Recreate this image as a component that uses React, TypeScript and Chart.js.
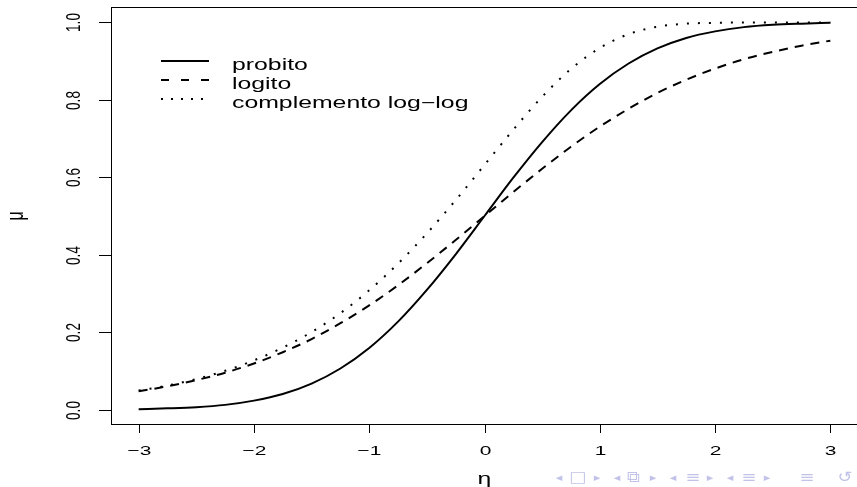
import React, { useEffect, useRef } from "react";
import { Chart, registerables } from "chart.js";

Chart.register(...registerables);

// ---- data ----
const eta = [-3, -2.75, -2.5, -2.25, -2, -1.75, -1.5, -1.25, -1, -0.75, -0.5, -0.25, 0,
  0.25, 0.5, 0.75, 1, 1.25, 1.5, 1.75, 2, 2.25, 2.5, 2.75, 3];
const probito = [0.001, 0.003, 0.006, 0.012, 0.023, 0.04, 0.067, 0.106, 0.159, 0.227, 0.309, 0.401, 0.5,
  0.599, 0.691, 0.773, 0.841, 0.894, 0.933, 0.96, 0.977, 0.988, 0.994, 0.997, 0.999];
const logito = [0.047, 0.06, 0.076, 0.095, 0.119, 0.148, 0.182, 0.223, 0.269, 0.321, 0.378, 0.438, 0.5,
  0.562, 0.622, 0.679, 0.731, 0.777, 0.818, 0.852, 0.881, 0.905, 0.924, 0.94, 0.953];
const complementoLogLog = [0.049, 0.062, 0.079, 0.1, 0.127, 0.16, 0.2, 0.249, 0.308, 0.377, 0.455, 0.541, 0.632,
  0.723, 0.808, 0.88, 0.934, 0.97, 0.989, 0.997, 0.999, 1.0, 1.0, 1.0, 1.0];

const xTicks = [-3, -2, -1, 0, 1, 2, 3];
const xTickLabels = ["\u22123", "\u22122", "\u22121", "0", "1", "2", "3"];
const yTicks = [0, 0.2, 0.4, 0.6, 0.8, 1.0];
const yTickLabels = ["0.0", "0.2", "0.4", "0.6", "0.8", "1.0"];
const legendLabels = ["probito", "logito", "complemento log\u2212log"];
const xTitle = "\u03b7";
const yTitle = "\u03bc";
const navIcons = ["\u25c2", "\u25a1", "\u25b8", "\u25c2", "\u29c9", "\u25b8", "\u25c2", "\u2261", "\u25b8", "\u25c2", "\u2261", "\u25b8", "\u2261", "\u21ba"];
const navX = [559, 578, 597, 617, 634, 653, 673, 693, 710, 730, 749, 767, 807, 845];

const SX = 1.55; // horizontal stretch of the original figure
const FONT = '"Liberation Sans", Arial, Helvetica, sans-serif';
const dashes: number[][] = [[], [9, 7], [2, 9]];

function sText(ctx: CanvasRenderingContext2D, text: string, x: number, y: number, size: number,
  align: CanvasTextAlign, rotate = false, sx = SX, family = FONT) {
  ctx.save();
  ctx.translate(x, y);
  ctx.scale(sx, 1);
  if (rotate) ctx.rotate(-Math.PI / 2);
  ctx.font = `${size}px ${family}`;
  ctx.textAlign = align;
  ctx.textBaseline = "alphabetic";
  ctx.fillText(text, 0, 0);
  ctx.restore();
}

const decor = {
  id: "decor",
  afterDraw(chart: any) {
    const ctx: CanvasRenderingContext2D = chart.ctx;
    const { left, right, top, bottom } = chart.chartArea;
    const xs = chart.scales.x;
    const ys = chart.scales.y;
    ctx.save();
    ctx.strokeStyle = "#000";
    ctx.fillStyle = "#000";
    ctx.lineWidth = 1;
    ctx.setLineDash([]);
    ctx.strokeRect(left + 0.5, top + 0.5, right - left - 1, bottom - top - 1);

    // x ticks
    xTicks.forEach((v, i) => {
      const px = Math.round(xs.getPixelForValue(v)) + 0.5;
      ctx.beginPath();
      ctx.moveTo(px, bottom);
      ctx.lineTo(px, bottom + 8);
      ctx.stroke();
      sText(ctx, xTickLabels[i], px, bottom + 30, 13.5, "center");
    });
    // y ticks
    yTicks.forEach((v, i) => {
      const py = Math.round(ys.getPixelForValue(v)) + 0.5;
      ctx.beginPath();
      ctx.moveTo(left, py);
      ctx.lineTo(left - 12, py);
      ctx.stroke();
      sText(ctx, yTickLabels[i], left - 31, py, 13.5, "center", true);
    });

    // axis titles
    sText(ctx, xTitle, xs.getPixelForValue(0), bottom + 59, 16, "center");
    sText(ctx, yTitle, 23, (top + bottom) / 2 + 0, 16, "center", true);

    // legend
    const lx0 = left + 50, lx1 = left + 98, tx = left + 121;
    const rows = [61, 80, 99];
    legendLabels.forEach((lab, i) => {
      ctx.save();
      ctx.lineWidth = 2;
      ctx.lineCap = "butt";
      ctx.setLineDash(i === 1 ? [8, 12] : i === 2 ? [2, 8] : []);
      ctx.beginPath();
      ctx.moveTo(lx0, rows[i]);
      ctx.lineTo(lx1, rows[i]);
      ctx.stroke();
      ctx.restore();
      sText(ctx, lab, tx, rows[i] + 9, 16, "left");
    });

    // beamer navigation symbols
    ctx.fillStyle = "#c3c3ea";
    navIcons.forEach((s, i) => {
      const small = s === "\u25c2" || s === "\u25b8";
      ctx.save();
      ctx.translate(navX[i], 478);
      ctx.scale(1.2, 1);
      ctx.font = `${small ? 11 : 15}px "DejaVu Sans", sans-serif`;
      ctx.textAlign = "center";
      ctx.textBaseline = "middle";
      ctx.fillText(s, 0, 0);
      ctx.restore();
    });
    ctx.restore();
  },
};

export default function App() {
  const ref = useRef<HTMLCanvasElement>(null);
  useEffect(() => {
    const series = [probito, logito, complementoLogLog];
    const chart = new Chart(ref.current as HTMLCanvasElement, {
      type: "line",
      data: {
        datasets: series.map((s, k) => ({
          label: legendLabels[k],
          data: eta.map((x, i) => ({ x, y: s[i] })),
          borderColor: "#000",
          borderWidth: 2,
          borderDash: dashes[k],
          borderCapStyle: "butt",
          pointRadius: 0,
          fill: false,
          cubicInterpolationMode: "monotone",
        })) as any,
      },
      options: {
        animation: false,
        responsive: false,
        devicePixelRatio: 1,
        events: [],
        layout: { padding: { left: 111, top: 7, right: 12, bottom: 62 } },
        scales: {
          x: { type: "linear", min: -3.24, max: 3.24, display: false },
          y: { type: "linear", min: -0.04, max: 1.04, display: false },
        },
        plugins: { legend: { display: false }, tooltip: { enabled: false } },
      },
      plugins: [decor],
    });
    return () => chart.destroy();
  }, []);
  return (
    <div style={{ position: "fixed", left: 0, top: 0, width: 857, height: 487, overflow: "hidden", background: "#fff" }}>
      <canvas ref={ref} width={870} height={487} style={{ display: "block", width: 870, height: 487 }} />
    </div>
  );
}
